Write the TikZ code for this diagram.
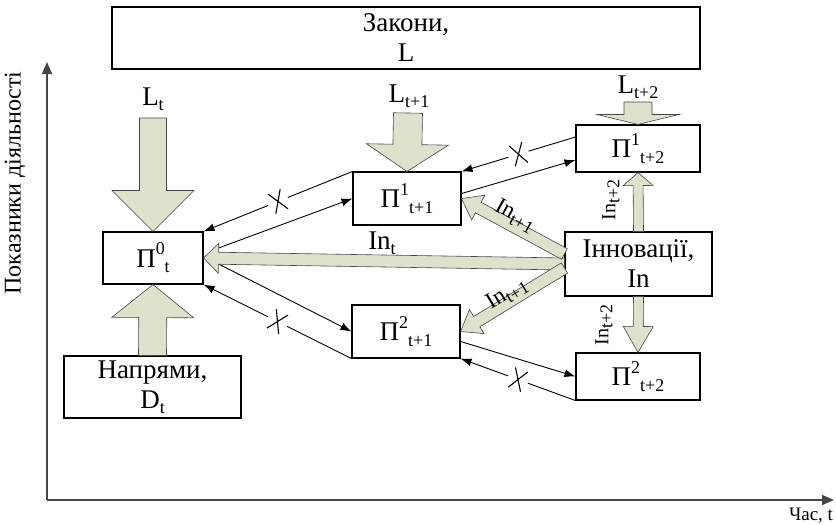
\documentclass[tikz,border=0pt]{standalone}
\usepackage{fontspec}
\setmainfont{Liberation Serif}
\usetikzlibrary{calc,arrows.meta,shapes.misc}

\definecolor{arrowfill}{RGB}{221,226,205}
\definecolor{edgegray}{RGB}{70,70,70}

\newcommand{\lo}[1]{\raisebox{-.2em}{\fontsize{18}{18}\selectfont #1}}
\newcommand{\hi}[1]{\raisebox{.46em}{\fontsize{18}{18}\selectfont #1}}
% fat block arrow: tail, tip, shaft half width, head half width, head length
\newcommand{\fatarrow}[5]{%
\coordinate (hb) at ($(#2)!#5!(#1)$);
\draw[fat] ($(#1)!#3!90:(#2)$) -- ($(hb)!#3!90:(#2)$) -- ($(hb)!#4!90:(#2)$) -- (#2)
  -- ($(hb)!#4!-90:(#2)$) -- ($(hb)!#3!-90:(#2)$) -- ($(#1)!#3!-90:(#2)$) -- cycle;
}

\begin{document}
\begin{tikzpicture}[x=1pt,y=-1pt,
  box/.style={draw=black, fill=white, line width=1.1pt, inner sep=0pt, align=center,
    font=\fontsize{27}{30}\selectfont},
  lab/.style={inner sep=0pt, font=\fontsize{27}{30}\selectfont},
  fat/.style={draw=edgegray, fill=arrowfill, line width=.6pt, line join=miter},
  link/.style={draw=black, line width=.9pt, -{Latex[length=11pt,width=8pt]}},
  gap/.style={sloped, fill=white, inner sep=0pt, minimum width=21pt, minimum height=3pt},
  xmark/.style={sloped, cross out, draw=black, line width=1.1pt, inner sep=0pt,
    minimum width=12pt, minimum height=20pt},
  axis/.style={draw=edgegray, line width=1.4pt, -{Triangle[length=12pt,width=10pt]}}]
\useasboundingbox (0,0) rectangle (836,525);

% axes
\coordinate (o) at (47,500);
\coordinate (ytop) at (47,62);
\coordinate (xend) at (834,500);
\draw[axis] (o) -- (ytop);
\draw[axis] (o) -- (xend);
\node[lab, rotate=90, font=\fontsize{24}{26}\selectfont] (ylab) at (15,183) {Показники діяльності};
\node[lab, font=\fontsize{19}{20}\selectfont] (xlab) at (811,516) {Час, t};

% boxes
\node[box, minimum width=588pt, minimum height=62pt] (laws) at (406,38) {Закони,\\L};
\node[box, minimum width=100pt, minimum height=52pt] (p0) at (153,258) {П\hi{0}\lo{t}};
\node[box, minimum width=177pt, minimum height=62pt] (dir) at (152.5,387) {Напрями,\\D\lo{t}};
\node[box, minimum width=108pt, minimum height=53pt] (p11) at (407,198.5) {П\hi{1}\lo{t+1}};
\node[box, minimum width=108pt, minimum height=53pt] (p21) at (406,331.5) {П\hi{2}\lo{t+1}};
\node[box, minimum width=124pt, minimum height=47pt] (p12) at (638,148.5) {П\hi{1}\lo{t+2}};
\node[box, minimum width=147pt, minimum height=64pt] (inn) at (638.5,264) {Інновації,\\In};
\node[box, minimum width=124pt, minimum height=47pt] (p22) at (638,376.5) {П\hi{2}\lo{t+2}};

% links between states
\coordinate (s1) at ($(p0.east)+(15,-10)$);
\coordinate (s2) at ($(p0.east)+(15,6)$);
\coordinate (s3) at ($(p12.west)+(0,-11.5)$);
\coordinate (s4) at ($(p11.east)+(0,-5)$);
\coordinate (s5) at ($(p12.west)+(0,11.5)$);
\coordinate (s6) at ($(p21.east)+(0,10)$);
\draw[link] (p11.north west) -- node[gap]{} node[xmark]{} (p0.north east);
\draw[link] (s1) -- (p11.west);
\draw[link] (p21.south west) -- node[gap]{} node[xmark]{} (p0.south east);
\draw[link] (s2) -- (p21.west);
\draw[link] (s3) -- node[gap]{} node[xmark]{} (p11.north east);
\draw[link] (s4) -- (s5);
\draw[link] (s6) -- (p22.west);
\draw[link] (p22.south west) -- node[gap]{} node[xmark]{} (p21.south east);

% laws and directions
\node[lab] (lt0) at (153,99) {L\lo{t}};
\node[lab] (lt1) at (409,96) {L\lo{t+1}};
\node[lab] (lt2) at (638,87) {L\lo{t+2}};
\coordinate (a0) at (153,118);
\coordinate (a1) at (408,113);
\coordinate (a2) at (638,102);
\fatarrow{a0}{p0.north}{13.5pt}{41pt}{41pt}
\fatarrow{a1}{p11.north}{14.5pt}{41pt}{27pt}
\fatarrow{a2}{p12.north}{14pt}{41pt}{10pt}
\fatarrow{dir.north}{p0.south}{14pt}{41pt}{33pt}

% innovations
\coordinate (iu) at ($(inn.west)+(0,-10)$);
\coordinate (id) at ($(inn.west)+(0,4)$);
\fatarrow{inn.west}{p0.east}{6pt}{15pt}{15pt}
\fatarrow{iu}{p11.east}{6pt}{14pt}{19pt}
\fatarrow{id}{p21.east}{6pt}{14pt}{19pt}
\fatarrow{inn.north}{p12.south}{5pt}{15pt}{13pt}
\fatarrow{inn.south}{p22.north}{5pt}{15pt}{26pt}
\node[lab] (int) at (382,243) {In\lo{t}};
\node[lab, rotate=-29, font=\fontsize{23}{24}\selectfont] (inu) at (515,216) {In\lo{t+1}};
\node[lab, rotate=31, font=\fontsize{23}{24}\selectfont] (ind) at (507,294) {In\lo{t+1}};
\node[lab, rotate=90, font=\fontsize{20}{22}\selectfont] (in2u) at (611,200) {In\lo{t+2}};
\node[lab, rotate=90, font=\fontsize{20}{22}\selectfont] (in2d) at (604,325) {In\lo{t+2}};
\end{tikzpicture}
\end{document}
